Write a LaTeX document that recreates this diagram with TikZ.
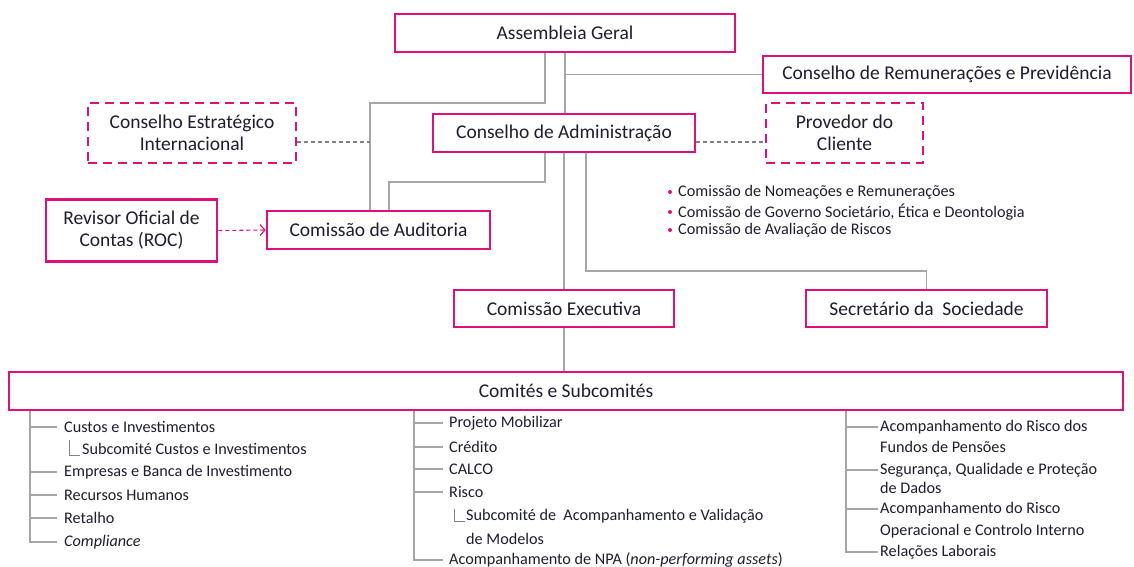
\documentclass[tikz,border=0pt]{standalone}
\usepackage{fontspec}
\setmainfont{Carlito}
\usetikzlibrary{arrows.meta,calc}
\definecolor{pinkc}{HTML}{E0107A}
\definecolor{linec}{HTML}{A6A6A6}
\definecolor{dlinec}{HTML}{808080}
\definecolor{txt}{HTML}{1E1E2E}
\begin{document}
\begin{tikzpicture}[x=1pt,y=-1pt,
  box/.style={draw=pinkc,line width=2.6pt,fill=white,inner sep=0pt,align=center,
    font=\fontsize{19.5}{22}\selectfont,text=txt},
  dbox/.style={box,dash pattern=on 9pt off 6pt},
  conn/.style={draw=linec,line width=1.4pt},
  dconn/.style={draw=dlinec,line width=1.1pt,dash pattern=on 4pt off 3pt},
  item/.style={anchor=west,inner sep=0pt,font=\fontsize{16.2}{18}\selectfont,text=txt},
  brk/.style={draw=dlinec,line width=0.8pt},
  arr/.style={draw=pinkc,line width=1.1pt,dash pattern=on 4pt off 3pt,
    -{Straight Barb[length=5pt,width=11pt,line width=1.1pt]}}
]
\useasboundingbox (0,0) rectangle (1134,566);

% boxes
\node[box,minimum width=340pt,minimum height=38pt] (ag) at (565,33) {Assembleia Geral};
\node[box,minimum width=368pt,minimum height=37pt] (crp) at (947,74.5) {Conselho de Remunerações e Previdência};
\node[dbox,minimum width=208pt,minimum height=60pt] (cei) at (192,133) {Conselho Estratégico\\Internacional};
\node[box,minimum width=262pt,minimum height=38pt] (ca) at (564,133) {Conselho de Administração};
\node[dbox,minimum width=157pt,minimum height=60pt] (pc) at (844.5,133) {Provedor do\\Cliente};
\node[box,minimum width=171pt,minimum height=62pt] (roc) at (131.5,230.5) {Revisor Oficial de\\Contas (ROC)};
\node[box,minimum width=223pt,minimum height=38pt] (aud) at (378.5,230) {Comissão de Auditoria};
\node[box,minimum width=220pt,minimum height=37pt] (ce) at (564,308.5) {Comissão Executiva};
\node[box,minimum width=241pt,minimum height=37pt] (sec) at (926.5,308.5) {Secretário da\ \ Sociedade};
\node[box,minimum width=1114pt,minimum height=38pt] (com) at (566,391) {Comités e Subcomités};

% junction coordinates
\coordinate (j1) at (545,103);
\coordinate (j2) at (370,103);
\coordinate (j3) at (545,182);
\coordinate (j4) at (389,182);
\coordinate (j5) at (586,271);
\coordinate (jd) at (370,142);

% connectors
\draw[conn] (ag.south) -- (ag.south |- ca.north);
\draw[conn] (ag.south |- crp.west) -- (crp.west);
\draw[conn] (ag.south -| j1) -- (j1) -- (j2) -- (j2 |- aud.north);
\draw[conn] (ca.south -| j3) -- (j3) -- (j4) -- (j4 |- aud.north);
\draw[conn] (ca.south) -- (ce.north);
\draw[conn] (ca.south -| j5) -- (j5) -| (sec.north);
\draw[conn] (ce.south) -- (ce.south |- com.north);
\draw[dconn] (cei.east |- jd) -- (jd);
\draw[dconn] (ca.east |- jd) -- (pc.west |- jd);
\draw[arr] (roc.east) -- (aud.west);

% bullets
\node[item] (b1) at (678,192) {Comissão de Nomeações e Remunerações};
\node[item] (b2) at (678,212) {Comissão de Governo Societário, Ética e Deontologia};
\node[item] (b3) at (678,230) {Comissão de Avaliação de Riscos};
\foreach \b in {b1,b2,b3} \fill[pinkc] ($(\b.west)+(-8,0)$) circle (2pt);

% column 1
\coordinate (v1) at (30,0);
\node[item] (c1a) at (64,427) {Custos e Investimentos};
\node[item] (c1s) at (82,449) {Subcomité Custos e Investimentos};
\node[item] (c1b) at (64,472) {Empresas e Banca de Investimento};
\node[item] (c1c) at (64,495) {Recursos Humanos};
\node[item] (c1d) at (64,518) {Retalho};
\node[item] (c1e) at (64,542) {\textit{Compliance}};
\draw[conn] (com.south -| v1) |- ($(c1e.west)+(-7,0)$);
\foreach \n in {c1a,c1b,c1c,c1d} \draw[conn] (v1 |- \n.west) -- ($(\n.west)+(-7,0)$);
\draw[brk] ($(c1s.west)+(-13,-9)$) |- ($(c1s.base west)+(-2,1)$);

% column 2
\coordinate (v2) at (414,0);
\node[item] (c2a) at (449,423) {Projeto Mobilizar};
\node[item] (c2b) at (449,447) {Crédito};
\node[item] (c2c) at (449,469) {CALCO};
\node[item] (c2d) at (449,492) {Risco};
\node[item] (c2s) at (466,516) {Subcomité de\ \ Acompanhamento e Validação};
\node[item] (c2t) at (466,539) {de Modelos};
\node[item] (c2e) at (449,560) {Acompanhamento de NPA (\textit{non-performing assets})};
\draw[conn] (com.south -| v2) |- ($(c2e.west)+(-6,0)$);
\foreach \n in {c2a,c2b,c2c,c2d} \draw[conn] (v2 |- \n.west) -- ($(\n.west)+(-6,0)$);
\draw[brk] ($(c2s.west)+(-12,-7)$) |- ($(c2s.base west)+(-1,1)$);

% column 3
\coordinate (v3) at (846,0);
\node[item] (c3a) at (880,427) {Acompanhamento do Risco dos};
\node[item] (c3a2) at (880,447) {Fundos de Pensões};
\node[item] (c3b) at (880,470) {Segurança, Qualidade e Proteção};
\node[item] (c3b2) at (880,488) {de Dados};
\node[item] (c3c) at (880,509) {Acompanhamento do Risco};
\node[item] (c3c2) at (880,531) {Operacional e Controlo Interno};
\node[item] (c3d) at (880,552) {Relações Laborais};
\draw[conn] (com.south -| v3) |- ($(c3d.west)+(-2,0)$);
\foreach \n in {c3a,c3b,c3c} \draw[conn] (v3 |- \n.west) -- ($(\n.west)+(-2,0)$);
\end{tikzpicture}
\end{document}
